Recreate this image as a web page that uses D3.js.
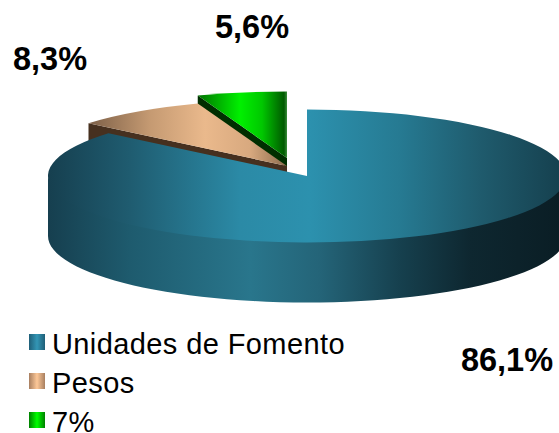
<!DOCTYPE html>
<html><head><meta charset="utf-8">
<style>html,body{margin:0;padding:0;background:#fff;overflow:hidden}svg{display:block}text{font-family:"Liberation Sans",Arial,sans-serif;fill:#000}</style>
<script src="https://cdnjs.cloudflare.com/ajax/libs/d3/7.8.5/d3.min.js"></script></head><body>
<script>
const categories=["Unidades de Fomento","Pesos","7%"];
const values=[86.1,8.3,5.6];
const valueLabels=["86,1%","8,3%","5,6%"];
const labelSpots=[[507,360],[50,59],[252,27]];
const sliceCentres=[[307,176],[287,166],[287,158]];
const blueTop=[[48,"#163f4f"],[130,"#1f5c70"],[240,"#2b8aa6"],[310,"#2c91ae"],[400,"#267a92"],[480,"#1f5b6d"],[566,"#153f4d"]];
const blueSide=[[48,"#163f4f"],[130,"#1e5b6e"],[250,"#29768c"],[320,"#246478"],[400,"#16404e"],[470,"#0e2730"],[566,"#0a1d24"]];
const tanTop=[[89,"#7d6048"],[150,"#c59a72"],[205,"#eab98c"],[250,"#d8a97f"],[288,"#8a6a4c"]];
const greenTop=[[197,"#007000"],[240,"#00f000"],[262,"#00c800"],[284,"#005a00"],[288,"#4f9f4f"]];
const legendStops=[["#1f5f78","#3396b5","#1f5f78"],["#a87f60","#fdc898","#a87f60"],["#008000","#00ff00","#008000"]];
const W=559,H=433,rx=259,ry=66.5,depth=60;
const svg=d3.select("body").append("svg").attr("width",W).attr("height",H);
const defs=svg.append("defs");
function grad(id,stops,dx=0){
  const x0=stops[0][0],x1=stops[stops.length-1][0];
  const g=defs.append("linearGradient").attr("id",id).attr("gradientUnits","userSpaceOnUse")
    .attr("x1",x0-dx).attr("x2",x1-dx).attr("y1",0).attr("y2",0);
  stops.forEach(s=>g.append("stop").attr("offset",(s[0]-x0)/(x1-x0)).attr("stop-color",s[1]));
  return `url(#${id})`;
}
const pie=d3.pie().sort(null).value(d=>d);
const slices=pie(values);
const arc=d3.arc().innerRadius(0).outerRadius(rx);
const pt=(c,a)=>[c[0]+rx*Math.sin(a),c[1]-ry*Math.cos(a)];
const yScale=ry/rx;
function wallOuter(c,a0,a1){
  const pts=d3.range(0,61).map(i=>pt(c,a0+(a1-a0)*i/60));
  const bot=pts.slice().reverse().map(p=>[p[0],p[1]+depth]);
  return d3.line()(pts.map(p=>[p[0],p[1]-2]).concat(bot))+"Z";
}
function wallCut(c,a,dep){
  const p=pt(c,a);
  return d3.line()([c,p,[p[0],p[1]+dep],[c[0],c[1]+dep]])+"Z";
}
const topTx=c=>`translate(${c[0]},${c[1]}) scale(1,${yScale})`;
// green (back)
{const s=slices[2],c=sliceCentres[2];
 svg.append("path").attr("d",wallCut(c,s.startAngle,10)).attr("fill","#002e00");
 svg.append("path").attr("d",arc(s)).attr("transform",topTx(c)).attr("fill",grad("gT",greenTop,c[0]));
}
// tan
{const s=slices[1],c=sliceCentres[1];
 svg.append("path").attr("d",wallCut(c,s.startAngle,depth)).attr("fill","#46301f");
 svg.append("path").attr("d",arc(s)).attr("transform",topTx(c)).attr("fill",grad("tT",tanTop,c[0]));
}
// blue (front)
{const s=slices[0],c=sliceCentres[0];
 svg.append("path").attr("d",wallOuter(c,Math.PI/2,Math.PI*1.5)).attr("fill",grad("bS",blueSide));
 svg.append("path").attr("d",arc(s)).attr("transform",topTx(c)).attr("fill",grad("bT",blueTop,c[0]));
}
svg.selectAll("text.v").data(valueLabels).join("text").attr("class","v")
 .attr("x",(d,i)=>labelSpots[i][0]).attr("y",(d,i)=>labelSpots[i][1]).attr("dy","0.35em")
 .attr("text-anchor","middle").attr("font-size",32.5).attr("font-weight","bold").text(d=>d);
const ly=d3.scalePoint().domain(categories).range([344,422]);
const lg=svg.selectAll("g.l").data(categories).join("g").attr("class","l").attr("transform",d=>`translate(29,${ly(d)})`);
lg.append("rect").attr("x",0).attr("y",-10).attr("width",16).attr("height",16).attr("fill",(d,i)=>{
  const g=defs.append("linearGradient").attr("id","lg"+i);
  [0,.5,1].forEach((o,j)=>g.append("stop").attr("offset",o).attr("stop-color",legendStops[i][j]));
  return `url(#lg${i})`;});
lg.append("text").attr("x",23).attr("dy","0.36em").attr("font-size",29).attr("letter-spacing",0.4).text(d=>d);
</script></body></html>
